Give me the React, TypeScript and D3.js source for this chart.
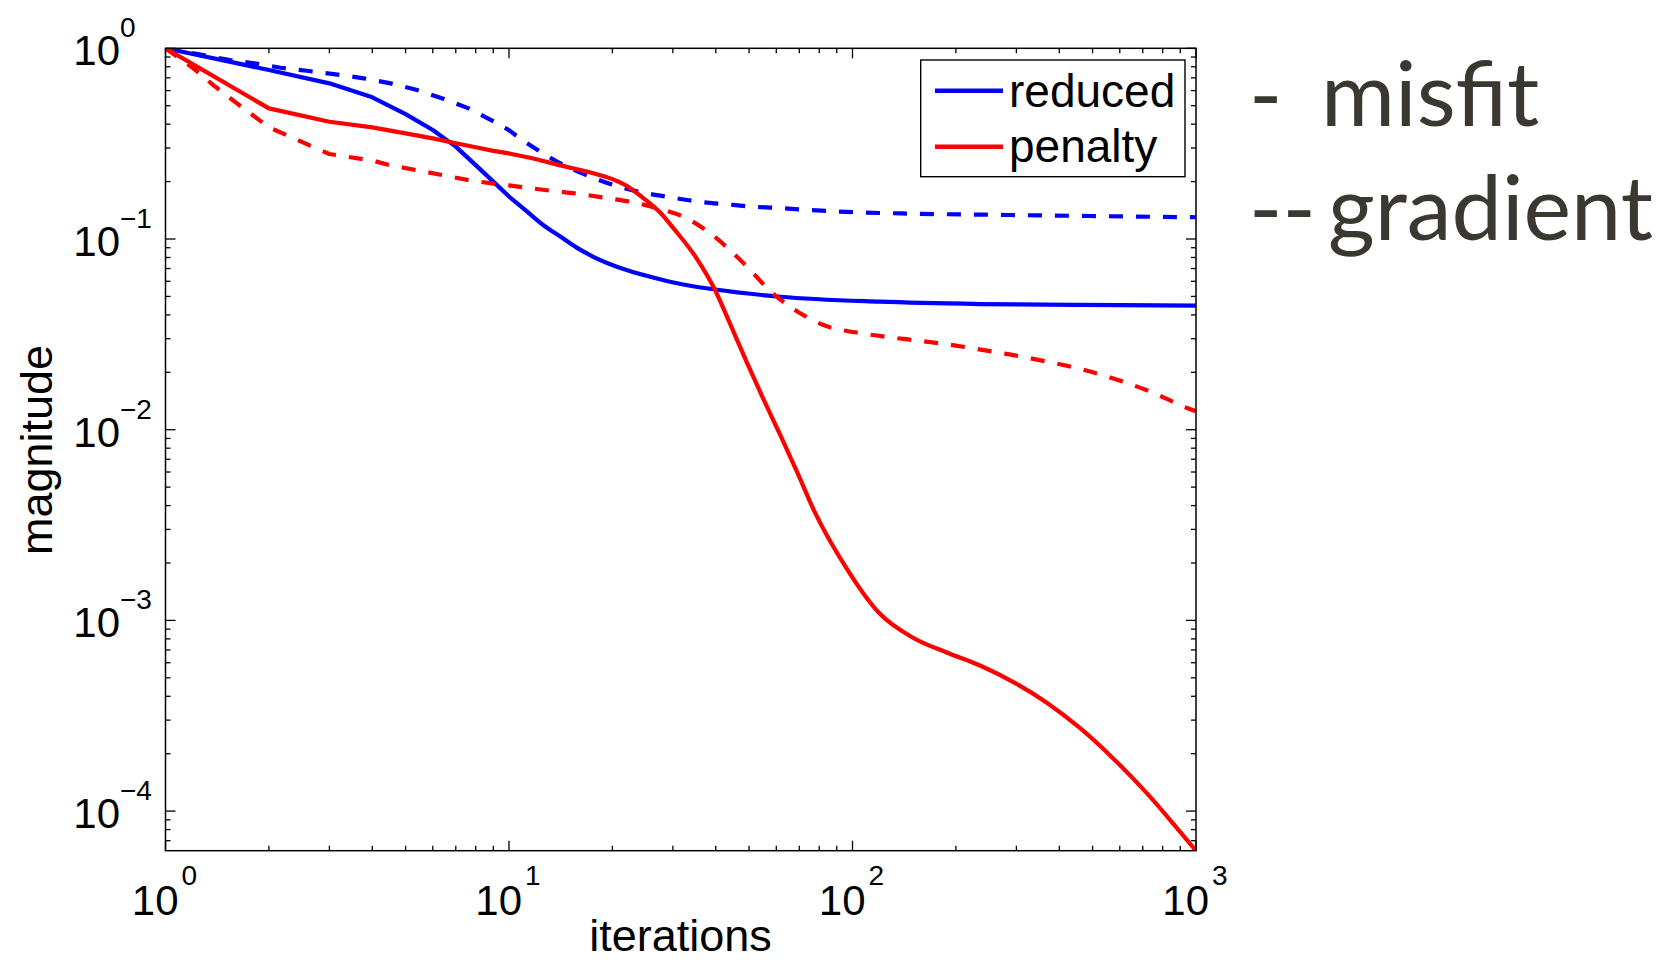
import React from 'react';
import * as d3 from 'd3';

// ---- data (iterations, magnitude) ----
const reducedMisfit: [number, number][] = [
  [1, 1.0], [2, 0.77], [3, 0.655], [4, 0.553], [5, 0.452], [6, 0.373], [7, 0.305],
  [8, 0.244], [9, 0.2], [10, 0.167], [11.3, 0.139], [12.6, 0.118], [14.1, 0.103],
  [15.7, 0.0904], [17.6, 0.0807], [22, 0.0687], [27.5, 0.0615], [31.6, 0.0581],
  [39.4, 0.0545], [61.6, 0.0498], [120, 0.0469], [235, 0.0456], [461, 0.0451], [1000, 0.0447],
];

const reducedGradient: [number, number][] = [
  [1, 1.0], [1.54, 0.868], [1.813, 0.834], [2.165, 0.791], [2.615, 0.76], [3.13, 0.73],
  [3.78, 0.696], [4.52, 0.655], [5.4, 0.604], [6.47, 0.542], [7.63, 0.484], [9.06, 0.412],
  [10, 0.372], [10.6, 0.344], [12.34, 0.287], [14.6, 0.2414], [17.3, 0.212], [20.5, 0.19],
  [24.6, 0.175], [29.8, 0.165], [35.6, 0.157], [43, 0.152], [51.5, 0.1477], [62.7, 0.1449],
  [74.2, 0.142], [103, 0.138], [150, 0.1358], [288, 0.1336], [490, 0.132], [1000, 0.13],
];

const penaltyMisfit: [number, number][] = [
  [1, 1.0], [2, 0.484], [3, 0.412], [4, 0.385], [5, 0.358], [6, 0.337], [7, 0.318],
  [8, 0.303], [9, 0.29], [10, 0.281], [12, 0.262], [14, 0.244], [17.6, 0.221], [20, 0.206],
  [22, 0.19], [24.6, 0.164], [27.5, 0.138], [30.1, 0.114], [35.2, 0.079], [39.4, 0.056],
  [44, 0.036], [49.1, 0.0228], [55, 0.0145], [61.6, 0.0094], [69, 0.006], [77.1, 0.0038],
  [96.4, 0.00186], [120, 0.001086], [150, 0.000811], [188, 0.000679], [235, 0.00058],
  [294, 0.000475], [367, 0.000371], [459, 0.000273], [574, 0.000189], [718, 0.0001245],
  [898, 0.000078], [1000, 0.000062],
];

const penaltyGradient: [number, number][] = [
  [1, 1.0], [1.205, 0.785], [1.384, 0.637], [1.604, 0.519], [2, 0.385], [2.587, 0.3137],
  [3, 0.279], [4, 0.258], [4.45, 0.245], [5.35, 0.23], [6.43, 0.216], [7.7, 0.203],
  [9.22, 0.194], [10, 0.191], [11.06, 0.1866], [13.25, 0.179], [16.1, 0.172], [19.2, 0.164],
  [23, 0.1557], [27.5, 0.1436], [32.9, 0.1284], [38.5, 0.1072], [45, 0.0841], [50.4, 0.0688],
  [57, 0.0543], [67.3, 0.043], [82, 0.0355], [107.6, 0.0319], [130.6, 0.0304], [153.4, 0.0294],
  [184.2, 0.0282], [227.5, 0.0266], [283.6, 0.0249], [366.6, 0.0228], [481.7, 0.0204],
  [616.8, 0.0178], [753.5, 0.01557], [941.8, 0.013], [1000, 0.0125],
];

const xMajorTicks = [1, 10, 100, 1000];
const xMajorExps = ['0', '1', '2', '3'];
const yMajorTicks = [1, 0.1, 0.01, 0.001, 0.0001];
const yMajorExps = ['0', '\u22121', '\u22122', '\u22123', '\u22124'];
const legendLabels = ['reduced', 'penalty'];
const noteMarks = ['-', '--'];
const noteWords = ['misfit', 'gradient'];

const xDomain: [number, number] = [1, 1000];
const yDomain: [number, number] = [6.2e-5, 1];

export default function App() {
  const W = 1666, H = 963;
  const L = 165.5, R = 1196, T = 48.3, B = 850.7;
  const x = d3.scaleLog().domain(xDomain).range([L, R]);
  const y = d3.scaleLog().domain(yDomain).range([B, T]);

  const lin = d3.line<[number, number]>().x(d => x(d[0])).y(d => y(d[1])).curve(d3.curveLinear);
  const mono = d3.line<[number, number]>().x(d => x(d[0])).y(d => y(d[1])).curve(d3.curveMonotoneX);
  const buildPath = (pts: [number, number][]) => {
    const a = pts.filter(p => p[0] <= 10);
    const b = pts.filter(p => p[0] >= 10);
    return (lin(a) || '') + (mono(b) || '').replace(/^M/, 'L');
  };

  const series = [
    { data: reducedMisfit, color: '#0000ff', dash: undefined },
    { data: reducedGradient, color: '#0000ff', dash: '14 13' },
    { data: penaltyMisfit, color: '#ff0000', dash: undefined },
    { data: penaltyGradient, color: '#ff0000', dash: '14 13' },
  ];

  const isMajor = (v: number) => Math.abs(Math.log10(v) - Math.round(Math.log10(v))) < 1e-9;
  const xTicks = x.ticks();
  const yTicks = y.ticks().filter(v => v >= yDomain[0] && v <= 1);

  const axisFont = "'Liberation Sans', Arial, Helvetica, sans-serif";
  const majLen = 10, minLen = 5;

  return (
    <svg width={W} height={H} style={{ position: 'absolute', left: 0, top: 0, background: '#fff' }}>
      <defs>
        <clipPath id="plotClip">
          <rect x={L} y={T} width={R - L} height={B - T} />
        </clipPath>
      </defs>
      <rect x={0} y={0} width={W} height={H} fill="#fff" />

      {/* ticks */}
      <g stroke="#000" strokeWidth={1.3}>
        {xTicks.map((v, i) => {
          const len = isMajor(v) ? majLen : minLen;
          const px = x(v);
          return (
            <g key={'xt' + i}>
              <line x1={px} x2={px} y1={B} y2={B - len} />
              <line x1={px} x2={px} y1={T} y2={T + len} />
            </g>
          );
        })}
        {yTicks.map((v, i) => {
          const len = isMajor(v) ? majLen : minLen;
          const py = y(v);
          return (
            <g key={'yt' + i}>
              <line x1={L} x2={L + len} y1={py} y2={py} />
              <line x1={R} x2={R - len} y1={py} y2={py} />
            </g>
          );
        })}
      </g>

      {/* curves */}
      <g clipPath="url(#plotClip)" fill="none">
        {series.map((s, i) => (
          <path key={'s' + i} d={buildPath(s.data)} stroke={s.color} strokeWidth={4.2}
            strokeDasharray={s.dash} strokeLinejoin="round" />
        ))}
      </g>

      {/* axes box */}
      <rect x={L} y={T} width={R - L} height={B - T} fill="none" stroke="#000" strokeWidth={1.5} />

      {/* tick labels */}
      <g fontFamily={axisFont} fill="#000">
        {xMajorTicks.map((v, i) => (
          <g key={'xl' + i}>
            <text x={x(v) + 13} y={915} fontSize={42} textAnchor="end">10</text>
            <text x={x(v) + 16} y={885} fontSize={28} textAnchor="start">{xMajorExps[i]}</text>
          </g>
        ))}
        {yMajorTicks.map((v, i) => (
          <g key={'yl' + i}>
            <text x={120} y={y(v) + 17} fontSize={42} textAnchor="end">10</text>
            <text x={120} y={y(v) - 11} fontSize={28} textAnchor="start">{yMajorExps[i]}</text>
          </g>
        ))}
        <text x={680.5} y={951} fontSize={45} textAnchor="middle">iterations</text>
        <text transform={`translate(52,450) rotate(-90)`} fontSize={45} textAnchor="middle">magnitude</text>
      </g>

      {/* legend */}
      <g>
        <rect x={920.7} y={60} width={264.3} height={116.7} fill="#fff" stroke="#000" strokeWidth={1.4} />
        {legendLabels.map((lab, i) => (
          <g key={'lg' + i}>
            <line x1={935} x2={1003} y1={90.7 + i * 56} y2={90.7 + i * 56}
              stroke={i === 0 ? '#0000ff' : '#ff0000'} strokeWidth={4.5} />
            <text x={1009} y={106.7 + i * 55} fontSize={46} fontFamily={axisFont} fill="#000">{lab}</text>
          </g>
        ))}
      </g>

      {/* side notes */}
      <g fontFamily="Lato, 'Open Sans', sans-serif" fill="#3b3731" fontSize={90}>
        {noteWords.map((w, i) => (
          <g key={'nt' + i}>
            <text x={1249} y={126 + i * 114}>{noteMarks[i]}</text>
            <text x={i === 0 ? 1321 : 1328} y={126 + i * 114}>{w}</text>
          </g>
        ))}
      </g>
    </svg>
  );
}
